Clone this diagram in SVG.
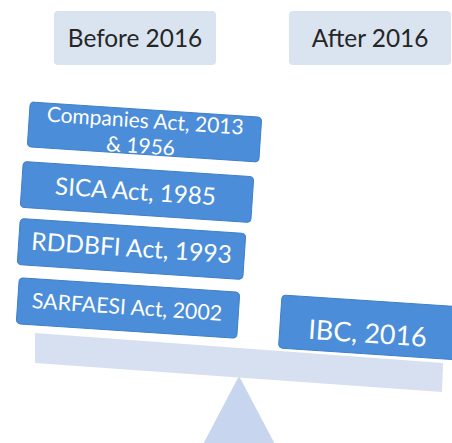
<svg xmlns="http://www.w3.org/2000/svg" width="452" height="443" viewBox="0 0 452 443">
  <style>
    .hdr { fill: #dae3f0; }
    .hdrtxt { font-family: Lato, "Noto Sans", sans-serif; font-size: 24.4px; fill: #262626; text-anchor: middle; }
    .act { fill: #4b8dd8; stroke: #3f7fc8; stroke-width: 1; }
    .acttxt { font-family: Lato, "Noto Sans", sans-serif; fill: #ffffff; text-anchor: middle; }
    .beam { fill: #d6e0f0; }
    .fulcrum { fill: #c8d5ee; }
  </style>
  <rect width="452" height="443" fill="#ffffff"/>

  <g id="header-before">
    <rect class="hdr" x="54" y="11" width="162" height="54" rx="4"/>
    <text class="hdrtxt" x="135" y="47">Before 2016</text>
  </g>
  <g id="header-after">
    <rect class="hdr" x="289" y="11" width="162" height="54" rx="4"/>
    <text class="hdrtxt" x="370" y="47">After 2016</text>
  </g>

  <g id="fulcrum">
    <polygon class="fulcrum" points="239,376 200,450 278,450"/>
  </g>
  <g id="beam">
    <polygon class="beam" points="35,333 443,363 442,392 35,363"/>
  </g>

  <g id="companies-act" transform="translate(144.5,132) rotate(3.8)">
    <rect class="act" x="-116" y="-22.5" width="232" height="45" rx="4"/>
    <text class="acttxt" x="0" y="-4" font-size="21">Companies Act, 2013</text>
    <text class="acttxt" x="-3" y="21.5" font-size="21">&amp; 1956</text>
  </g>
  <g id="sica-act" transform="translate(137,192) rotate(3.8)">
    <rect class="act" x="-115.5" y="-23" width="231" height="46" rx="4"/>
    <text class="acttxt" x="-1.5" y="8" font-size="24.2">SICA Act, 1985</text>
  </g>
  <g id="rddbfi-act" transform="translate(131.5,249) rotate(3.8)">
    <rect class="act" x="-113" y="-23" width="226" height="46" rx="4"/>
    <text class="acttxt" x="0" y="7.5" font-size="24.6">RDDBFI Act, 1993</text>
  </g>
  <g id="sarfaesi-act" transform="translate(128,308) rotate(3.8)">
    <rect class="act" x="-110.5" y="-23" width="221" height="46" rx="4"/>
    <text class="acttxt" x="-1" y="6.5" font-size="21.3">SARFAESI Act, 2002</text>
  </g>
  <g id="ibc" transform="translate(282,295) rotate(3.8)">
    <rect class="act" x="0" y="0" width="200" height="53" rx="4"/>
    <text class="acttxt" x="88" y="42" font-size="27">IBC, 2016</text>
  </g>

  <g id="connectors"></g>
</svg>
